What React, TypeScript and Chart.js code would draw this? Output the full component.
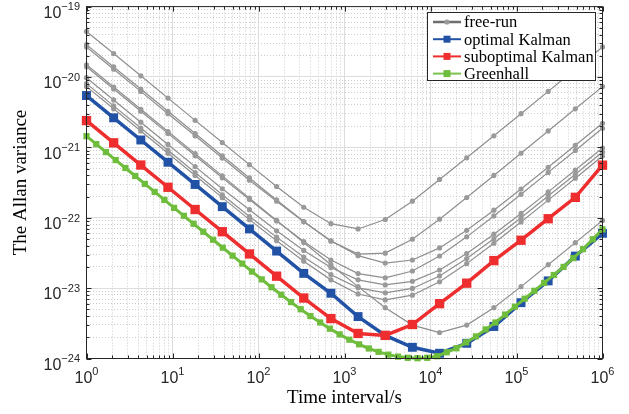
import React, { useEffect, useRef } from "react";
import { Chart, registerables } from "chart.js";

Chart.register(...registerables);

// ---------- data ----------
const tau = [1, 2.069, 4.281, 8.859, 18.33, 37.93, 78.48, 162.4, 336.0, 695.2, 1438, 2976, 6158, 12743, 26367, 54556, 112884, 233572, 483293, 1000000];

const greenTau = [1, 1.298, 1.684, 2.186, 2.837, 3.682, 4.778, 6.201, 8.047, 10.44, 13.56, 17.59, 22.83, 29.63, 38.45, 49.9, 64.76, 84.05, 109.1, 141.6, 183.7, 238.5, 309.5, 401.6, 521.2, 676.5, 878.0, 1139, 1479, 1919, 2491, 3232, 4195, 5444, 7066, 9168, 11900, 15440, 20040, 26010, 33760, 43810, 56860, 73800, 95750, 124300, 161300, 209300, 271700, 352600, 457500, 593800, 770700, 1000000];

const freeRun1 = [4.44e-20, 2.15e-20, 1.04e-20, 5.01e-21, 2.42e-21, 1.17e-21, 5.68e-22, 2.78e-22, 1.41e-22, 8.24e-23, 6.93e-23, 9.44e-23, 1.72e-22, 3.5e-22, 7.1e-22, 1.46e-21, 3.01e-21, 6.24e-21, 1.29e-20, 2.67e-20];
const freeRun2 = [2.88e-20, 1.39e-20, 6.73e-21, 3.25e-21, 1.57e-21, 7.6e-22, 3.68e-22, 1.79e-22, 8.82e-23, 4.65e-23, 3.05e-23, 3.14e-23, 4.96e-23, 9.53e-23, 1.94e-22, 3.99e-22, 8.25e-22, 1.71e-21, 3.53e-21, 7.3e-21];
const freeRun3 = [2.67e-20, 1.29e-20, 6.24e-21, 3.01e-21, 1.46e-21, 7.04e-22, 3.41e-22, 1.72e-22, 8.74e-23, 4.71e-23, 2.89e-23, 2.27e-23, 2.51e-23, 3.73e-23, 6.62e-23, 1.28e-22, 2.56e-22, 5.21e-22, 1.07e-21, 2.2e-21];
const freeRun4 = [1.49e-20, 7.2e-21, 3.48e-21, 1.68e-21, 8.13e-22, 3.93e-22, 1.9e-22, 9.18e-23, 4.44e-23, 2.15e-23, 1.05e-23, 5.28e-24, 2.98e-24, 2.34e-24, 2.98e-24, 5.27e-24, 1.05e-23, 2.15e-23, 4.43e-23, 9.16e-23];
const freeRun5 = [1.4e-20, 6.75e-21, 3.26e-21, 1.58e-21, 7.62e-22, 3.69e-22, 1.82e-22, 9.0e-23, 4.59e-23, 2.51e-23, 1.61e-23, 1.4e-23, 1.75e-23, 2.86e-23, 5.35e-23, 1.06e-22, 2.15e-22, 4.41e-22, 9.04e-22, 1.87e-21];
const freeRun6 = [9.77e-21, 4.72e-21, 2.28e-21, 1.1e-21, 5.33e-22, 2.58e-22, 1.3e-22, 6.52e-23, 3.43e-23, 1.96e-23, 1.31e-23, 1.11e-23, 1.25e-23, 1.81e-23, 3.1e-23, 5.84e-23, 1.15e-22, 2.33e-22, 4.77e-22, 9.77e-22];
const freeRun7 = [8.05e-21, 3.89e-21, 1.88e-21, 9.09e-22, 4.39e-22, 2.12e-22, 1.04e-22, 5.3e-23, 2.76e-23, 1.55e-23, 1.01e-23, 8.56e-24, 9.9e-24, 1.49e-23, 2.63e-23, 5.03e-23, 1.0e-22, 2.04e-22, 4.15e-22, 8.59e-22];
const freeRun8 = [7.3e-21, 3.53e-21, 1.71e-21, 8.24e-22, 3.98e-22, 1.93e-22, 9.4e-23, 4.72e-23, 2.41e-23, 1.31e-23, 8.26e-24, 6.8e-24, 7.93e-24, 1.23e-23, 2.23e-23, 4.34e-23, 8.72e-23, 1.78e-22, 3.64e-22, 7.54e-22];
const freeRunSeries = [freeRun1, freeRun2, freeRun3, freeRun4, freeRun5, freeRun6, freeRun7, freeRun8];

const optimalKalman = [5.45e-21, 2.63e-21, 1.273e-21, 6.15e-22, 2.97e-22, 1.437e-22, 6.94e-23, 3.36e-23, 1.62e-23, 8.45e-24, 3.94e-24, 2.13e-24, 1.443e-24, 1.187e-24, 1.644e-24, 2.85e-24, 6.21e-24, 1.267e-23, 2.85e-23, 6.01e-23];
const suboptimalKalman = [2.4e-21, 1.16e-21, 5.61e-22, 2.71e-22, 1.309e-22, 6.33e-23, 3.06e-23, 1.478e-23, 7.23e-24, 3.69e-24, 2.27e-24, 2.13e-24, 3.04e-24, 6.01e-24, 1.176e-23, 2.46e-23, 4.79e-23, 9.68e-23, 1.95e-22, 5.58e-22];
const greenhall = [1.443e-21, 1.112e-21, 8.57e-22, 6.6e-22, 5.09e-22, 3.92e-22, 3.02e-22, 2.33e-22, 1.79e-22, 1.382e-22, 1.065e-22, 8.2e-23, 6.32e-23, 4.87e-23, 3.75e-23, 2.89e-23, 2.23e-23, 1.717e-23, 1.33e-23, 1.03e-23, 8.05e-24, 6.33e-24, 5.01e-24, 4.01e-24, 3.25e-24, 2.65e-24, 2.2e-24, 1.85e-24, 1.59e-24, 1.388e-24, 1.243e-24, 1.135e-24, 1.064e-24, 1.023e-24, 1.01e-24, 1.023e-24, 1.077e-24, 1.227e-24, 1.397e-24, 1.696e-24, 2.06e-24, 2.59e-24, 3.25e-24, 4.21e-24, 5.45e-24, 7.07e-24, 9.16e-24, 1.187e-23, 1.539e-23, 2.0e-23, 2.67e-23, 3.58e-23, 4.95e-23, 6.84e-23];

const seriesNames = ["free-run", "optimal Kalman", "suboptimal Kalman", "Greenhall"];
const xTickExponents = [0, 1, 2, 3, 4, 5, 6];
const yTickExponents = [-24, -23, -22, -21, -20, -19];
const xTitle = "Time interval/s";
const yTitle = "The Allan variance";

// ---------- helpers ----------
function logTicks(exps: number[]) {
  const out: { value: number; major: boolean }[] = [];
  for (let i = 0; i < exps.length; i++) {
    const base = Math.pow(10, exps[i]);
    out.push({ value: base, major: true });
    if (i < exps.length - 1) {
      for (let m = 2; m <= 9; m++) out.push({ value: m * base, major: false });
    }
  }
  return out;
}

function toPoints(xs: number[], ys: number[]) {
  return ys.map((v, i) => ({ x: xs[i], y: v }));
}

const SUP = 11;
const BASE = 16;
const TICK_FONT = '"Liberation Sans", Arial, sans-serif';
const SERIF = '"Liberation Serif", "Times New Roman", serif';
const AXIS_COLOR = "#262626";

function expText(e: number) {
  return e < 0 ? "\u2212" + String(-e) : String(e);
}

const axesPlugin = {
  id: "matlabAxes",
  afterDraw(chart: any) {
    const { ctx, chartArea: a, scales } = chart;
    const xs = scales.x;
    const ys = scales.y;
    ctx.save();
    ctx.strokeStyle = AXIS_COLOR;
    ctx.lineWidth = 1;
    ctx.strokeRect(a.left, a.top, a.right - a.left, a.bottom - a.top);
    ctx.beginPath();
    for (const t of xs.ticks) {
      const px = Math.round(xs.getPixelForValue(t.value)) + 0.5;
      const len = t.major ? 5 : 3;
      ctx.moveTo(px, a.bottom);
      ctx.lineTo(px, a.bottom - len);
      ctx.moveTo(px, a.top);
      ctx.lineTo(px, a.top + len);
    }
    for (const t of ys.ticks) {
      const py = Math.round(ys.getPixelForValue(t.value)) + 0.5;
      const len = t.major ? 5 : 3;
      ctx.moveTo(a.left, py);
      ctx.lineTo(a.left + len, py);
      ctx.moveTo(a.right, py);
      ctx.lineTo(a.right - len, py);
    }
    ctx.stroke();

    ctx.fillStyle = AXIS_COLOR;
    ctx.textBaseline = "alphabetic";
    ctx.textAlign = "left";
    for (const e of xTickExponents) {
      const px = xs.getPixelForValue(Math.pow(10, e));
      ctx.font = `${BASE}px ${TICK_FONT}`;
      const w1 = ctx.measureText("10").width;
      ctx.font = `${SUP}px ${TICK_FONT}`;
      const w2 = ctx.measureText(expText(e)).width;
      const x0 = px - (w1 + w2) / 2;
      ctx.font = `${BASE}px ${TICK_FONT}`;
      ctx.fillText("10", x0, a.bottom + 24);
      ctx.font = `${SUP}px ${TICK_FONT}`;
      ctx.fillText(expText(e), x0 + w1, a.bottom + 16.5);
    }
    for (const e of yTickExponents) {
      const py = ys.getPixelForValue(Math.pow(10, e));
      ctx.font = `${SUP}px ${TICK_FONT}`;
      const w2 = ctx.measureText(expText(e)).width;
      const xr = a.left - 6.5;
      ctx.fillText(expText(e), xr - w2, py + 3.8);
      ctx.font = `${BASE}px ${TICK_FONT}`;
      const w1 = ctx.measureText("10").width;
      ctx.fillText("10", xr - w2 - w1, py + 11.3);
    }
    ctx.restore();
  },
};

const legendStyles = [
  { line: "#6e6e6e", lw: 2.5, marker: "circle", fill: "#9a9a9a", size: 2.6 },
  { line: "#2152a6", lw: 2, marker: "rect", fill: "#2152a6", size: 3.5 },
  { line: "#ee2e2e", lw: 2, marker: "rect", fill: "#ee2e2e", size: 3.5 },
  { line: "#7cc24f", lw: 2, marker: "rect", fill: "#6fbd3d", size: 3.5 },
];

const legendPlugin = {
  id: "matlabLegend",
  afterDraw(chart: any) {
    const { ctx } = chart;
    const L = 427.5, T = 12.5, R = 595.5, B = 80.5;
    ctx.save();
    ctx.fillStyle = "#ffffff";
    ctx.fillRect(L, T, R - L, B - T);
    ctx.strokeStyle = AXIS_COLOR;
    ctx.lineWidth = 1;
    ctx.strokeRect(L, T, R - L, B - T);
    seriesNames.forEach((name, i) => {
      const st = legendStyles[i];
      const cy = 22 + i * 17.2;
      ctx.strokeStyle = st.line;
      ctx.lineWidth = st.lw;
      ctx.beginPath();
      ctx.moveTo(433, cy);
      ctx.lineTo(461, cy);
      ctx.stroke();
      ctx.fillStyle = st.fill;
      if (st.marker === "circle") {
        ctx.beginPath();
        ctx.arc(447, cy, st.size, 0, Math.PI * 2);
        ctx.fill();
      } else {
        ctx.fillRect(447 - st.size, cy - st.size, st.size * 2, st.size * 2);
      }
      ctx.fillStyle = "#000000";
      ctx.font = `16.5px ${SERIF}`;
      ctx.textBaseline = "middle";
      ctx.textAlign = "left";
      ctx.fillText(name, 464, cy + 1);
    });
    ctx.restore();
  },
};

export default function App() {
  const ref = useRef<HTMLCanvasElement | null>(null);

  useEffect(() => {
    document.body.style.margin = "0";
    const canvas = ref.current;
    if (!canvas) return;

    const greyDatasets = freeRunSeries.map((s, i) => ({
      label: i === 0 ? seriesNames[0] : seriesNames[0] + " " + (i + 1),
      data: toPoints(tau, s),
      borderColor: "#8e8e8e",
      backgroundColor: "#9a9a9a",
      borderWidth: 1.2,
      pointRadius: 2.6,
      pointBorderWidth: 0,
      pointBackgroundColor: "#9a9a9a",
      pointStyle: "circle",
      order: 4,
      clip: false as any,
    }));

    const chart = new Chart(canvas, {
      type: "line",
      data: {
        datasets: [
          ...greyDatasets,
          {
            label: seriesNames[1],
            data: toPoints(tau, optimalKalman),
            borderColor: "#2152a6",
            backgroundColor: "#2152a6",
            borderWidth: 3.5,
            pointStyle: "rect",
            pointRadius: 6.3,
            pointBorderWidth: 0,
            pointBackgroundColor: "#2152a6",
            order: 3,
            clip: false as any,
          },
          {
            label: seriesNames[2],
            data: toPoints(tau, suboptimalKalman),
            borderColor: "#ee2e2e",
            backgroundColor: "#ee2e2e",
            borderWidth: 3.5,
            pointStyle: "rect",
            pointRadius: 6.6,
            pointBorderWidth: 0,
            pointBackgroundColor: "#ee2e2e",
            order: 2,
            clip: false as any,
          },
          {
            label: seriesNames[3],
            data: toPoints(greenTau, greenhall),
            borderColor: "#6fbd3d",
            backgroundColor: "#6fbd3d",
            borderWidth: 3,
            pointStyle: "rect",
            pointRadius: 4.4,
            pointBorderWidth: 0,
            pointBackgroundColor: "#6fbd3d",
            order: 1,
            clip: false as any,
          },
        ],
      },
      options: {
        responsive: false,
        animation: false,
        layout: { padding: { top: 4.5, right: 26.5, bottom: 0, left: 0 } },
        elements: { line: { tension: 0 } },
        plugins: {
          legend: { display: false },
          tooltip: { enabled: false },
        },
        scales: {
          x: {
            type: "logarithmic",
            min: 1,
            max: 1e6,
            afterBuildTicks: (s: any) => {
              s.ticks = logTicks(xTickExponents);
            },
            afterFit: (s: any) => {
              s.height = 55.5;
            },
            ticks: { display: false },
            grid: {
              drawTicks: false,
              lineWidth: 1,
              color: (c: any) => (c.tick && c.tick.major ? "#dcdcdc" : "#cccccc"),
            },
            border: {
              display: false,
              dash: (c: any) => (c.tick && c.tick.major ? [] : [1, 2]),
            },
            title: {
              display: true,
              text: xTitle,
              color: "#000000",
              font: { family: SERIF, size: 19 },
              padding: { top: 0, bottom: 4.7 },
            },
          },
          y: {
            type: "logarithmic",
            min: 1e-24,
            max: 1e-19,
            afterBuildTicks: (s: any) => {
              s.ticks = logTicks(yTickExponents);
            },
            afterFit: (s: any) => {
              s.width = 86.5;
            },
            ticks: { display: false },
            grid: {
              drawTicks: false,
              lineWidth: 1,
              color: (c: any) => (c.tick && c.tick.major ? "#dcdcdc" : "#cccccc"),
            },
            border: {
              display: false,
              dash: (c: any) => (c.tick && c.tick.major ? [] : [1, 2]),
            },
            title: {
              display: true,
              text: yTitle,
              color: "#000000",
              font: { family: SERIF, size: 19 },
              padding: { top: 9.2, bottom: 0 },
            },
          },
        },
      } as any,
      plugins: [axesPlugin, legendPlugin],
    });

    return () => chart.destroy();
  }, []);

  return (
    <div style={{ width: 629, height: 414 }}>
      <canvas ref={ref} width={629} height={414} />
    </div>
  );
}
